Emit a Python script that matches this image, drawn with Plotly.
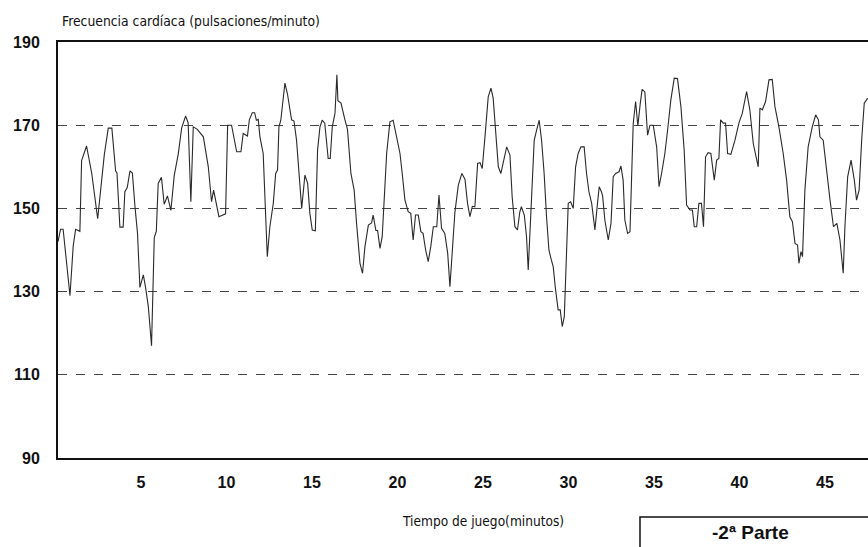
import plotly.graph_objects as go

# Heart-rate trace over the second half of the match
minutes = [
    0.15, 0.3, 0.45, 0.85, 1.04, 1.18, 1.43, 1.53, 1.82, 2.12, 2.47, 2.7, 2.86, 3.09, 3.3,
    3.52, 3.6, 3.77, 3.96, 4.06, 4.2, 4.36, 4.5, 4.65, 4.8, 4.94, 5.14, 5.27, 5.43, 5.62,
    5.78, 5.9, 6.01, 6.2, 6.36, 6.55, 6.75, 6.95, 7.18, 7.38, 7.61, 7.76, 7.92, 8.06, 8.2,
    8.3, 8.65, 8.94, 9.13, 9.25, 9.56, 9.95, 10.07, 10.3, 10.6, 10.85, 10.98, 11.23, 11.34,
    11.51, 11.65, 11.75, 11.86, 11.96, 12.15, 12.25, 12.39, 12.54, 12.74, 12.88, 12.99,
    13.07, 13.18, 13.42, 13.57, 13.81, 13.95, 14.1, 14.24, 14.4, 14.59, 14.75, 14.88,
    15.02, 15.2, 15.33, 15.47, 15.6, 15.75, 15.95, 16.07, 16.19, 16.35, 16.46, 16.52,
    16.7, 16.93, 17.08, 17.28, 17.47, 17.61, 17.81, 17.96, 18.1, 18.3, 18.49, 18.58,
    18.74, 18.84, 18.98, 19.11, 19.22, 19.37, 19.56, 19.75, 19.95, 20.15, 20.28, 20.44,
    20.63, 20.78, 20.92, 21.06, 21.22, 21.37, 21.5, 21.65, 21.8, 21.95, 22.1, 22.3, 22.43,
    22.58, 22.77, 22.94, 23.07, 23.2, 23.36, 23.56, 23.77, 23.95, 24.1, 24.24, 24.38,
    24.53, 24.69, 24.83, 24.96, 25.12, 25.31, 25.47, 25.6, 25.74, 25.9, 26.05, 26.2,
    26.39, 26.58, 26.71, 26.87, 27.02, 27.16, 27.25, 27.42, 27.55, 27.65, 27.75, 27.85,
    28.0, 28.14, 28.29, 28.43, 28.58, 28.72, 28.86, 29.0, 29.11, 29.25, 29.4, 29.52,
    29.64, 29.76, 29.89, 29.99, 30.13, 30.28, 30.42, 30.57, 30.73, 30.92, 31.06, 31.2,
    31.36, 31.55, 31.7, 31.8, 31.93, 32.0, 32.13, 32.33, 32.49, 32.62, 32.76, 32.96,
    33.07, 33.2, 33.3, 33.46, 33.6, 33.7, 33.79, 33.93, 34.06, 34.2, 34.31, 34.47, 34.63,
    34.77, 34.96, 35.16, 35.3, 35.45, 35.64, 35.8, 35.99, 36.19, 36.38, 36.58, 36.77,
    36.91, 37.11, 37.25, 37.36, 37.5, 37.63, 37.78, 37.9, 38.02, 38.17, 38.33, 38.53,
    38.67, 38.8, 38.9, 39.05, 39.19, 39.31, 39.5, 39.74, 39.97, 40.17, 40.42, 40.61,
    40.81, 40.96, 41.1, 41.2, 41.34, 41.53, 41.73, 41.92, 42.08, 42.31, 42.56, 42.76,
    42.95, 43.1, 43.25, 43.4, 43.48, 43.6, 43.69, 43.83, 44.02, 44.26, 44.46, 44.62,
    44.71, 44.9, 45.1, 45.3, 45.5, 45.7, 45.88, 46.07, 46.17, 46.33, 46.53, 46.72, 46.85,
    47.0, 47.15, 47.3, 47.5,
]

pulse = [
    142, 145, 145, 129, 141, 145, 144.5, 161.5, 165, 158.5, 147.5, 157, 163, 169.3, 169.3,
    159, 158.5, 145.5, 145.5, 154, 155, 159, 158.5, 150.5, 144, 131, 134, 131, 126.5, 117,
    143, 144.5, 156, 157.5, 151, 153, 149.5, 158, 163, 169.3, 172.2, 170.6, 151.6, 169.6, 169.2,
    169, 167.2, 160, 151.6, 154.4, 148, 148.7, 170, 170, 163.6, 163.6, 168, 167.4, 171.3,
    173, 173, 171.2, 171.4, 167.2, 163.2, 154.4, 138.4, 145.6, 151.2, 158.4, 159.2,
    169.6, 171.2, 180.1, 177.5, 171.3, 171, 166.4, 158.4, 150, 158, 156, 148.8,
    144.8, 144.6, 164, 169.6, 171.2, 170.5, 162, 162, 169.6, 172.9, 182.1, 175.9,
    175.3, 171.3, 169, 158.4, 154.4, 146.4, 136.8, 134.4, 140.8, 146, 146.5, 148.4,
    144.7, 144.7, 140.4, 143.2, 151, 163.2, 170.8, 171.2, 167.2, 163.2, 158.4, 152,
    149.2, 148.8, 142.4, 148.4, 148.4, 144.4, 144, 140, 137.2, 140.8, 145.6, 145.6, 153.2,
    145.2, 144, 139.2, 131.2, 140, 149, 155.6, 158.4, 157, 151.2, 148, 150.5,
    150.4, 160.8, 161, 159.6, 167.2, 176.8, 178.9, 176.5, 168.8, 160, 158.4, 161,
    164.8, 162.8, 152.8, 145.6, 144.8, 149.2, 150.4, 148.4, 143.2, 135.2, 143.2, 154.4,
    166.4, 168.8, 171.2, 166.4, 158.4, 148, 140, 137.6, 136, 130.4, 125.6, 125.6,
    121.6, 124, 137.6, 151.2, 151.6, 150, 160, 163.2, 164.8, 164.8, 158.4, 154,
    151.2, 144.8, 151.2, 155.2, 154, 153, 147.2, 142.4, 146.4, 157.6, 158.4, 158.8,
    160.2, 156.8, 147.2, 144, 144.4, 158.4, 170.4, 175.7, 169.8, 175.2, 178.6, 178, 167.6,
    170, 170, 164.8, 155.2, 158.4, 163.2, 168.8, 176.1, 181.3, 181.2, 174.4, 164,
    150.8, 149.6, 149.6, 145.6, 145.6, 151.2, 151.2, 145.6, 162.4, 163.4, 163.2, 156.8,
    161.6, 162, 171.3, 170.5, 170.5, 163.2, 163, 166.4, 170.5, 172.9, 178.1, 173.7,
    165.6, 162.4, 160, 174.1, 173.7, 175.7, 180.9, 181, 174.4, 169.6, 163.2, 156.8,
    148, 146.8, 141.6, 141.2, 136.8, 139.6, 138.4, 154.4, 164.8, 169.6, 172.5, 171.3,
    167.2, 166.4, 158.4, 152, 145.6, 146.4, 142.4, 134.4, 145.6, 157.6, 161.6, 156.8, 152,
    154.4, 166.4, 175.3, 176.5,
]

x_ticks = [5, 10, 15, 20, 25, 30, 35, 40, 45]
y_ticks = [90, 110, 130, 150, 170, 190]

y_title = "Frecuencia cardíaca (pulsaciones/minuto)"
x_title = "Tiempo de juego(minutos)"
half_label = "-2ª Parte"

tick_font = dict(family="Liberation Sans, Arial, sans-serif", size=16, color="#111111")
narrow_font = "DejaVu Sans Condensed, Liberation Sans Narrow, Arial Narrow, sans-serif"

fig = go.Figure()
fig.add_trace(go.Scatter(
    x=minutes, y=pulse, mode="lines",
    line=dict(color="#2a2a2a", width=1.1),
    hoverinfo="skip", showlegend=False,
))

fig.update_layout(
    width=868, height=547,
    margin=dict(l=58, r=0, t=42, b=89),
    paper_bgcolor="white", plot_bgcolor="white",
    xaxis=dict(
        range=[0.15, 47.52], tickvals=x_ticks, ticktext=[str(v) for v in x_ticks],
        showgrid=False, zeroline=False, showline=True, linecolor="#111111", linewidth=2,
        mirror=True, ticks="", ticklabelstandoff=9,
        tickfont=dict(tick_font, weight="bold"),
    ),
    yaxis=dict(
        range=[90, 190], tickvals=y_ticks, ticktext=[str(v) for v in y_ticks],
        showgrid=True, gridcolor="#444444", gridwidth=1, griddash="dash",
        zeroline=False, showline=True, linecolor="#111111", linewidth=2,
        ticks="", ticklabelstandoff=13,
        tickfont=dict(tick_font, weight="bold"),
    ),
    annotations=[
        dict(text=y_title, xref="paper", yref="paper", x=0.002, y=1.0, yshift=21,
             xanchor="left", yanchor="middle", showarrow=False,
             font=dict(family=narrow_font, size=13.8, color="#111111")),
        dict(text=x_title, xref="paper", yref="paper", x=0.525, y=0, yshift=-63,
             xanchor="center", yanchor="middle", showarrow=False,
             font=dict(family=narrow_font, size=13.6, color="#111111")),
        dict(text=half_label, xref="paper", yref="paper", x=0.855, y=0, yshift=-74,
             xanchor="center", yanchor="middle", showarrow=False,
             font=dict(family="Liberation Sans, Arial, sans-serif", size=19,
                       color="#111111", weight="bold")),
    ],
    shapes=[
        dict(type="rect", xref="paper", yref="paper", x0=0.7185, x1=1.02,
             y0=-0.142, y1=-0.25, line=dict(color="#111111", width=1.5)),
    ],
)

fig.write_html("out.html")
